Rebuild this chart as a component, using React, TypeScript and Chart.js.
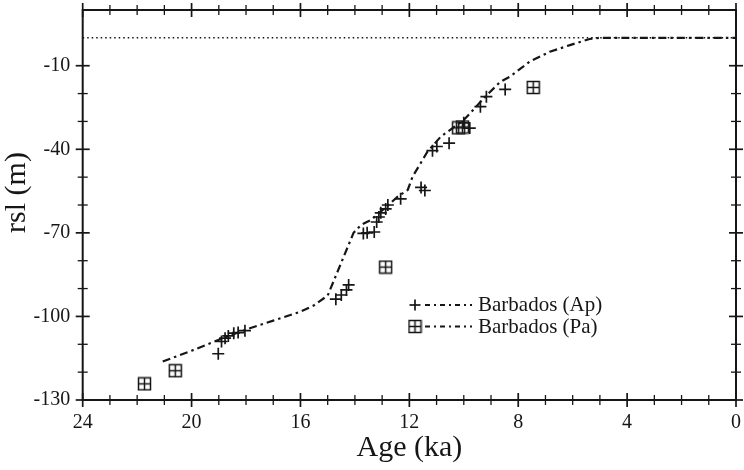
import React, { useEffect, useRef } from "react";
import { Chart, registerables } from "chart.js";
Chart.register(...registerables);

// ---- data ----
const xTickLabels = [24, 20, 16, 12, 8, 4, 0];
const yTickLabels = [-10, -40, -70, -100, -130];

// Barbados (Ap) – crosses
const apAge = [19.02, 18.9, 18.77, 18.65, 18.45, 18.29, 18.04, 14.7, 14.5, 14.31, 14.23, 13.69, 13.55, 13.29, 13.2, 13.12, 13.05, 12.87, 12.79, 12.32, 11.57, 11.43, 11.15, 10.99, 10.54, 10.0, 9.78, 9.39, 9.17, 8.48];
const apRsl = [-113.4, -109, -107.8, -107, -106, -105.8, -105.1, -93.8, -92.3, -90.5, -88.7, -70.2, -70, -69.7, -66.1, -64.3, -62.8, -61.4, -60, -57.8, -53.7, -54.8, -40.5, -39, -37.8, -30.5, -32.4, -24.7, -21.1, -18.5];

// Barbados (Pa) – boxed crosses
const paAge = [21.73, 20.6, 12.87, 10.19, 10.05, 7.45];
const paRsl = [-124.2, -119.5, -82.3, -32.3, -32.0, -17.8];

// model curve (dash-dot)
const curveAge = [21.06, 20, 19, 18, 17, 16, 15.5, 15, 14.05, 13.77, 13.4, 12.91, 12.43, 12.06, 11.88, 11.33, 10.85, 10.0, 9.15, 8.66, 8.3, 7.57, 6.84, 6.1, 5.38, 5, 0];
const curveRsl = [-116.2, -112.3, -108.4, -104.7, -101.5, -98.3, -96, -92.5, -70, -67.1, -65.3, -61.2, -57, -54.6, -49.8, -40.8, -35.5, -29.5, -20.5, -15.8, -13.9, -8.5, -5, -2.6, -0.4, 0, 0];

// present sea level reference (dotted)
const seaLevelAge = [24, 0];
const seaLevelRsl = [0, 0];

const legendLabels = ["Barbados (Ap)", "Barbados (Pa)"];

const FONT = "'Liberation Serif', 'DejaVu Serif', serif";
const INK = "#161616";

function makePaMarker(): HTMLCanvasElement {
  const c = document.createElement("canvas");
  c.width = 15;
  c.height = 15;
  const g = c.getContext("2d")!;
  g.strokeStyle = INK;
  g.lineWidth = 1.5;
  g.strokeRect(1.5, 1.5, 12, 12);
  g.beginPath();
  g.moveTo(7.5, 1.5);
  g.lineTo(7.5, 13.5);
  g.moveTo(1.5, 7.5);
  g.lineTo(13.5, 7.5);
  g.stroke();
  return c;
}

const zip = (xs: number[], ys: number[]) => xs.map((x, i) => ({ x, y: ys[i] }));

const noPad = (s: any) => {
  s.paddingLeft = 0;
  s.paddingRight = 0;
  s.paddingTop = 0;
  s.paddingBottom = 0;
};

export default function App() {
  const ref = useRef<HTMLCanvasElement | null>(null);

  useEffect(() => {
    if (!ref.current) return;
    const paMarker = makePaMarker();

    const framePlugin = {
      id: "frameTicks",
      afterDraw(chart: any) {
        const ctx = chart.ctx as CanvasRenderingContext2D;
        const { left, right, top, bottom } = chart.chartArea;
        const xs = chart.scales.x;
        const ys = chart.scales.y;
        ctx.save();
        ctx.strokeStyle = INK;
        const line = (a: number, b: number, c: number, d: number) => {
          ctx.beginPath();
          ctx.moveTo(a, b);
          ctx.lineTo(c, d);
          ctx.stroke();
        };
        for (let v = 0; v <= 24; v += 1) {
          const px = xs.getPixelForValue(v);
          const major = xTickLabels.includes(v);
          const len = major ? 7 : 5;
          ctx.lineWidth = major ? 1.7 : 1.3;
          line(px, bottom - len, px, bottom + len);
          line(px, top - len, px, top + len);
        }
        for (let v = -130; v <= -10; v += 10) {
          const py = ys.getPixelForValue(v);
          const major = yTickLabels.includes(v);
          const len = major ? 7 : 5;
          ctx.lineWidth = major ? 1.7 : 1.3;
          line(left - len, py, left + len, py);
          line(right - len, py, right + len, py);
        }
        ctx.lineWidth = 2;
        ctx.strokeRect(left, top, right - left, bottom - top);

        // y-axis title
        ctx.fillStyle = INK;
        ctx.font = `30px ${FONT}`;
        ctx.textAlign = "center";
        ctx.textBaseline = "middle";
        ctx.translate(17, 192.5);
        ctx.rotate(-Math.PI / 2);
        ctx.fillText("rsl (m)", 0, 0);
        ctx.restore();

        // legend
        ctx.save();
        ctx.strokeStyle = INK;
        ctx.fillStyle = INK;
        const rows = [305, 326.5];
        rows.forEach((ry, i) => {
          if (i === 0) {
            ctx.lineWidth = 1.7;
            line(409.5, ry, 420.5, ry);
            line(415, ry - 5.5, 415, ry + 5.5);
          } else {
            ctx.drawImage(paMarker, 415 - 7.5, ry - 7.5);
          }
          ctx.lineWidth = 1.9;
          ctx.setLineDash([5, 4, 2, 4]);
          line(425, ry, 472, ry);
          ctx.setLineDash([]);
          ctx.font = `21px ${FONT}`;
          ctx.textAlign = "left";
          ctx.textBaseline = "alphabetic";
          ctx.fillText(legendLabels[i], 478, ry + 6);
        });
        ctx.restore();
      },
    };

    const chart = new Chart(ref.current, {
      type: "scatter",
      data: {
        datasets: [
          {
            label: legendLabels[0],
            data: zip(apAge, apRsl),
            pointStyle: "cross",
            pointRadius: 6,
            pointBorderWidth: 1.7,
            borderColor: INK,
            backgroundColor: INK,
            showLine: false,
          },
          {
            label: legendLabels[1],
            data: zip(paAge, paRsl),
            pointStyle: paMarker as any,
            pointRadius: 7,
            borderColor: INK,
            showLine: false,
          },
          {
            label: "model",
            data: zip(curveAge, curveRsl),
            showLine: true,
            pointRadius: 0,
            borderColor: INK,
            borderWidth: 2.2,
            borderDash: [8, 4, 2.5, 4],
            tension: 0,
            fill: false,
          },
          {
            label: "present sea level",
            data: zip(seaLevelAge, seaLevelRsl),
            showLine: true,
            pointRadius: 0,
            borderColor: "#111",
            borderWidth: 1.5,
            borderDash: [1.5, 3],
            fill: false,
          },
        ],
      },
      options: {
        animation: false,
        responsive: false,
        maintainAspectRatio: false,
        layout: { padding: { left: 0, right: 3, top: 10, bottom: 0 } },
        plugins: {
          legend: { display: false },
          tooltip: { enabled: false },
        },
        scales: {
          x: {
            type: "linear",
            reverse: true,
            min: 0,
            max: 24,
            afterBuildTicks: (s: any) => {
              s.ticks = xTickLabels.map((v) => ({ value: v }));
            },
            afterFit: (s: any) => {
              s.height = 70;
              noPad(s);
            },
            grid: { display: false, drawTicks: false },
            border: { display: false },
            ticks: {
              color: INK,
              padding: 11,
              maxRotation: 0,
              autoSkip: false,
              font: { family: FONT, size: 20 },
              callback: (v: any) => String(v),
            },
            title: {
              display: true,
              text: "Age (ka)",
              color: INK,
              font: { family: FONT, size: 30 },
              padding: { top: 0, bottom: 4 },
            },
          },
          y: {
            type: "linear",
            min: -130,
            max: 10,
            afterBuildTicks: (s: any) => {
              s.ticks = yTickLabels.map((v) => ({ value: v }));
            },
            afterFit: (s: any) => {
              s.width = 82.7;
              noPad(s);
            },
            grid: { display: false, drawTicks: false },
            border: { display: false },
            ticks: {
              color: INK,
              padding: 12.5,
              autoSkip: false,
              font: { family: FONT, size: 20 },
              callback: (v: any) => String(v),
            },
          },
        },
      },
      plugins: [framePlugin],
    });
    return () => chart.destroy();
  }, []);

  return (
    <div style={{ position: "absolute", left: 0, top: 0, width: 744, height: 470, background: "#fff" }}>
      <canvas ref={ref} width={744} height={470} style={{ display: "block" }} />
    </div>
  );
}
